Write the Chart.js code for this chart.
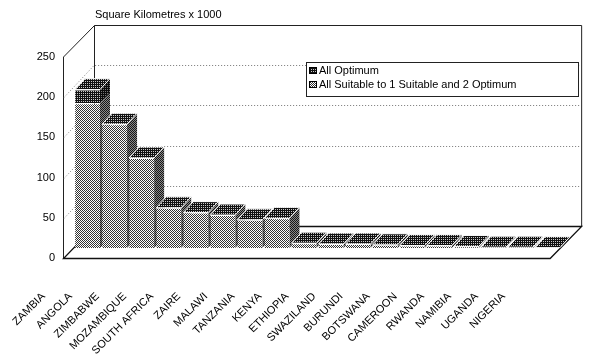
<!DOCTYPE html>
<html><head><meta charset="utf-8">
<script src="https://cdn.jsdelivr.net/npm/chart.js@4.4.0/dist/chart.umd.min.js"></script>
<style>html,body{margin:0;padding:0;background:#fff;}canvas{display:block;}</style>
</head><body>
<canvas id="c" width="600" height="359"></canvas>
<script>
// ---- data ----
const countries = ['ZAMBIA','ANGOLA','ZIMBABWE','MOZAMBIQUE','SOUTH AFRICA','ZAIRE','MALAWI','TANZANIA','KENYA','ETHIOPIA','SWAZILAND','BURUNDI','BOTSWANA','CAMEROON','RWANDA','NAMIBIA','UGANDA','NIGERIA'];
const allSuitable = [180,154,112,50,44,41,35,37,6,5,5,4,3,3,2,1,1,0.5];
const allOptimum  = [17,0,0,0,0,0,0,0,0,0,0,0,0,0,0,0,0,0];
const seriesNames = ['All Suitable to 1 Suitable and 2 Optimum','All Optimum'];
const yTicks = [0,50,100,150,200,250];
const unitTitle = 'Square Kilometres x 1000';

// ---- styles ----
const FONT = "'Liberation Sans', Arial, Helvetica, sans-serif";
const canvas = document.getElementById('c');
const ctx0 = canvas.getContext('2d');
function pattern(cells){ // cells: 2D array of colours
  const h = cells.length, w = cells[0].length;
  const c = document.createElement('canvas'); c.width = w; c.height = h;
  const g = c.getContext('2d');
  for(let r=0;r<h;r++) for(let k=0;k<w;k++){ g.fillStyle = cells[r][k]; g.fillRect(k,r,1,1); }
  return ctx0.createPattern(c,'repeat');
}
const lightFront = pattern([['#333333','#ffffff'],['#ffffff','#333333']]);
const darkFront  = pattern([['#111111','#111111'],['#111111','#c8c8c8']]);
const lightSide  = pattern([['#151515','#8a8a8a'],['#8a8a8a','#151515']]);
const darkSide   = pattern([['#0a0a0a','#0a0a0a'],['#0a0a0a','#777777']]);
const fronts = [lightFront, darkFront];
const sides = [lightSide, darkSide];

const FRONT = {x:-11, y:10};   // front plane offset from bar plane
const BACK  = {x:20,  y:-22};  // back wall offset from bar plane
const BD    = {x:10,  y:-11};  // bar depth

Chart.defaults.font.family = FONT;
Chart.defaults.font.size = 11;
Chart.defaults.color = '#000';

const depth3d = {
  id:'depth3d',
  beforeDatasetsDraw(chart){
    const {ctx, chartArea:a, scales:{x, y}} = chart;
    const yb = y.getPixelForValue(y.min), yt = y.getPixelForValue(y.max);
    const L = a.left, R = a.right;
    ctx.save();
    // back wall
    ctx.fillStyle = '#fff';
    ctx.fillRect(L+BACK.x, yt+BACK.y, R-L, yb-yt);
    ctx.lineWidth = 1; ctx.strokeStyle = '#222';
    ctx.beginPath();
    ctx.moveTo(L+BACK.x+0.5, yb+BACK.y); ctx.lineTo(L+BACK.x+0.5, yt+BACK.y+0.5);
    ctx.lineTo(R+BACK.x+0.5, yt+BACK.y+0.5); ctx.lineTo(R+BACK.x+0.5, yb+BACK.y);
    ctx.stroke();
    // left wall
    ctx.beginPath();
    ctx.moveTo(L+FRONT.x+0.5, yb+FRONT.y); ctx.lineTo(L+FRONT.x+0.5, yt+FRONT.y);
    ctx.lineTo(L+BACK.x+0.5, yt+BACK.y+0.5);
    ctx.stroke();
    // grid lines
    ctx.setLineDash([1,2]); ctx.strokeStyle = '#777';
    for(const v of yTicks){
      if(v===y.min || v===y.max) continue;
      const p = Math.round(y.getPixelForValue(v))+0.5;
      ctx.beginPath();
      ctx.moveTo(L+FRONT.x+1, p+FRONT.y); ctx.lineTo(L+BACK.x, p+BACK.y);
      ctx.lineTo(R+BACK.x, p+BACK.y);
      ctx.stroke();
    }
    ctx.setLineDash([]);
    // floor
    ctx.strokeStyle = '#111'; ctx.lineWidth = 1.3;
    ctx.beginPath();
    ctx.moveTo(L+FRONT.x+0.5, yb+FRONT.y+0.5); ctx.lineTo(R+FRONT.x, yb+FRONT.y+0.5);
    ctx.lineTo(R+BACK.x+0.5, yb+BACK.y+0.5); ctx.lineTo(L+BACK.x+0.5, yb+BACK.y+0.5);
    ctx.closePath();
    ctx.stroke();
    // bar sides and tops
    const metas = chart.data.datasets.map((d,i)=>chart.getDatasetMeta(i));
    const n = chart.data.labels.length;
    ctx.lineWidth = 1;
    for(let j=0;j<n;j++){
      let top = null, left=0, right=0;
      metas.forEach((m,i)=>{
        const el = m.data[j];
        left = el.x - el.width/2; right = el.x + el.width/2;
        if(el.base - el.y > 0.01){
          ctx.fillStyle = sides[i];
          ctx.beginPath();
          ctx.moveTo(right, el.y); ctx.lineTo(right+BD.x, el.y+BD.y);
          ctx.lineTo(right+BD.x, el.base+BD.y); ctx.lineTo(right, el.base);
          ctx.closePath(); ctx.fill();
        }
        top = el.y;
      });
      ctx.fillStyle = darkFront; ctx.strokeStyle = '#fff';
      ctx.beginPath();
      ctx.moveTo(left, top); ctx.lineTo(right, top);
      ctx.lineTo(right+BD.x, top+BD.y); ctx.lineTo(left+BD.x, top+BD.y);
      ctx.closePath(); ctx.fill(); ctx.stroke();
    }
    ctx.restore();
  },
  afterDraw(chart){
    const {ctx, chartArea:a} = chart;
    ctx.save();
    ctx.font = '11px ' + FONT; ctx.fillStyle = '#000';
    ctx.textBaseline = 'middle'; ctx.textAlign = 'left';
    ctx.fillText(unitTitle, a.left + BACK.x + 1, 15);
    // legend
    const bx = 306, by = 62, bw = 272, bh = 34;
    ctx.fillStyle = '#fff'; ctx.fillRect(bx, by, bw, bh);
    ctx.strokeStyle = '#222'; ctx.lineWidth = 1;
    ctx.strokeRect(bx+0.5, by+0.5, bw, bh);
    const ds = chart.data.datasets;
    for(let k=0;k<ds.length;k++){
      const i = ds.length-1-k;
      const cy = by + 8 + k*14;
      ctx.fillStyle = fronts[i];
      ctx.fillRect(bx+3, cy-3, 8, 7);
      ctx.strokeStyle = '#000';
      ctx.strokeRect(bx+3.5, cy-2.5, 7, 6);
      ctx.fillStyle = '#000';
      ctx.fillText(ds[i].label, bx+13, cy+0.5);
    }
    ctx.restore();
  }
};

new Chart(canvas, {
  type:'bar',
  data:{
    labels: countries,
    datasets:[
      {label: seriesNames[0], data: allSuitable, backgroundColor: lightFront,
       borderColor:'#fff', borderWidth:{top:1,left:0,right:0,bottom:0}, borderSkipped:false,
       barPercentage:0.92, categoryPercentage:1},
      {label: seriesNames[1], data: allOptimum, backgroundColor: darkFront,
       borderColor:'#fff', borderWidth:{top:1,left:0,right:0,bottom:0}, borderSkipped:false,
       barPercentage:0.92, categoryPercentage:1}
    ]
  },
  options:{
    responsive:false, animation:false, devicePixelRatio:1,
    layout:{padding:{top:47, right:38, left:0, bottom:0}},
    plugins:{legend:{display:false}, tooltip:{enabled:false}, title:{display:false}},
    scales:{
      x:{stacked:true, grid:{display:false, drawTicks:false}, border:{display:false},
         ticks:{autoSkip:false, minRotation:45, maxRotation:45, labelOffset:-44, padding:42,
                font:{size:11}},
         afterFit(s){ s.height = 111; }},
      y:{stacked:true, min:0, max:250, grid:{display:false, drawTicks:false}, border:{display:false},
         ticks:{padding:19, labelOffset:10, font:{size:11}},
         afterBuildTicks(s){ s.ticks = yTicks.map(v=>({value:v})); },
         afterFit(s){ s.width = 74; }}
    }
  },
  plugins:[depth3d]
});
</script>
</body></html>
